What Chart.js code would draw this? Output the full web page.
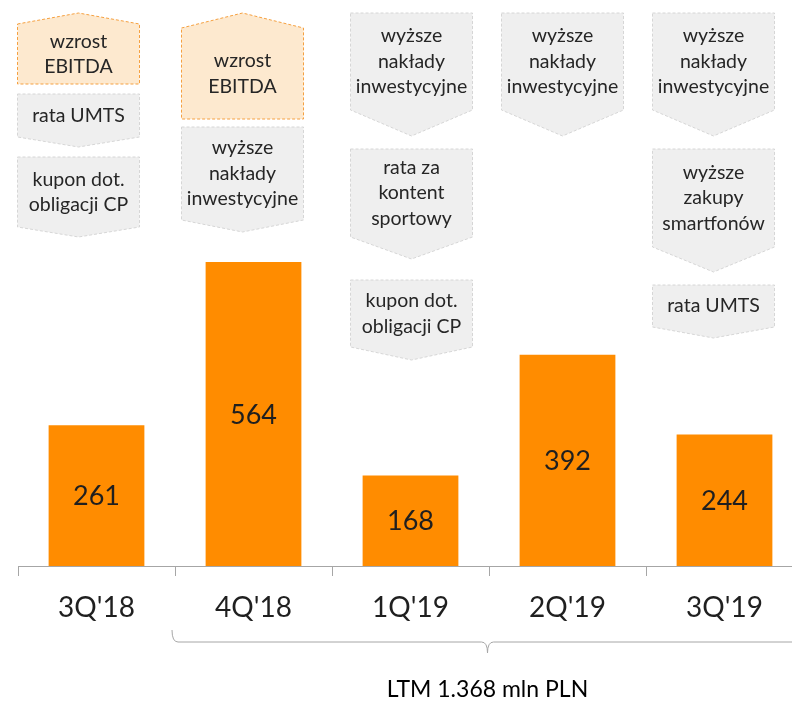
<!DOCTYPE html>
<html><head><meta charset="utf-8">
<script src="https://cdn.jsdelivr.net/npm/chart.js@4"></script>
<style>
html,body{margin:0;padding:0;background:#fff;overflow:hidden;width:792px;height:701px}
#wrap{position:relative;width:803px;height:701px}
</style></head>
<body>
<div id="wrap"><canvas id="c"></canvas></div>
<script>
// ---- data ----
const categories = ["3Q'18", "4Q'18", "1Q'19", "2Q'19", "3Q'19"];
const values = [261, 564, 168, 392, 244];
const ltmLabel = "LTM 1.368 mln PLN";
// annotations per category: [kind, lines]
const notes3Q18 = [["up", ["wzrost", "EBITDA"]], ["down", ["rata UMTS"]], ["down", ["kupon dot.", "obligacji CP"]]];
const notes4Q18 = [["up", ["wzrost", "EBITDA"]], ["down", ["wyższe", "nakłady", "inwestycyjne"]]];
const notes1Q19 = [["down", ["wyższe", "nakłady", "inwestycyjne"]], ["down", ["rata za", "kontent", "sportowy"]], ["down", ["kupon dot.", "obligacji CP"]]];
const notes2Q19 = [["down", ["wyższe", "nakłady", "inwestycyjne"]]];
const notes3Q19 = [["down", ["wyższe", "nakłady", "inwestycyjne"]], ["down", ["wyższe", "zakupy", "smartfonów"]], ["down", ["rata UMTS"]]];
const notes = [notes3Q18, notes4Q18, notes1Q19, notes2Q19, notes3Q19];

// ---- layout (geometry of annotation shapes: [top, shoulder, end]) ----
const boxXOffset = [-18, -11, 1, -5, -11];
const boxWidth = 122;
const boxGeom = [
  [[13, 24, 84], [94, 137, 147], [157, 227, 237]],
  [[13, 28, 119], [127, 220, 232]],
  [[13, 110, 136], [149, 237, 259], [280, 347, 360]],
  [[13, 110, 136]],
  [[13, 110, 136], [149, 247, 272], [285, 327, 338]]
];
const FONT = "Lato, 'Open Sans', sans-serif";

const shapesPlugin = {
  id: 'shapes',
  afterDraw(chart) {
    const ctx = chart.ctx;
    const xs = chart.scales.x;
    // bar value labels
    const meta = chart.getDatasetMeta(0);
    ctx.save();
    ctx.font = "27px " + FONT;
    ctx.fillStyle = "#1f1f1f";
    ctx.textAlign = "center";
    ctx.textBaseline = "middle";
    meta.data.forEach((bar, i) => {
      ctx.fillText(String(values[i]), bar.x, (bar.y + bar.base) / 2 + 1);
    });
    ctx.restore();

    // annotation shapes
    notes.forEach((list, ci) => {
      const cx = xs.getPixelForValue(ci) + boxXOffset[ci];
      const l = cx - boxWidth / 2, r = cx + boxWidth / 2;
      list.forEach((n, k) => {
        const [kind, lines] = n;
        const [t, s, e] = boxGeom[ci][k];
        ctx.save();
        ctx.beginPath();
        let textTop, textBot;
        if (kind === 'up') {
          ctx.moveTo(l, s); ctx.lineTo(cx, t); ctx.lineTo(r, s); ctx.lineTo(r, e); ctx.lineTo(l, e); ctx.closePath();
          ctx.fillStyle = "#fde9cf"; ctx.strokeStyle = "#f5a040";
          textTop = s; textBot = e;
        } else {
          ctx.moveTo(l, t); ctx.lineTo(r, t); ctx.lineTo(r, s); ctx.lineTo(cx, e); ctx.lineTo(l, s); ctx.closePath();
          ctx.fillStyle = "#efefef"; ctx.strokeStyle = "#d6d6d6";
          textTop = t; textBot = s;
        }
        ctx.fill();
        ctx.setLineDash([3, 2]); ctx.lineWidth = 1; ctx.stroke();
        ctx.setLineDash([]);
        ctx.font = "19.5px " + FONT;
        ctx.fillStyle = "#262626";
        ctx.textAlign = "center"; ctx.textBaseline = "middle";
        const lh = 25.5;
        const mid = (textTop + textBot) / 2;
        const y0 = mid - (lines.length - 1) * lh / 2;
        lines.forEach((ln, j) => ctx.fillText(ln, cx, y0 + j * lh));
        ctx.restore();
      });
    });

    // brace under 4Q'18 .. 3Q'19
    const half = (xs.getPixelForValue(1) - xs.getPixelForValue(0)) / 2;
    const bl = xs.getPixelForValue(1) - half - 3;
    const br = xs.getPixelForValue(4) + half;
    const bm = (bl + br) / 2;
    const by = 642;
    ctx.save();
    ctx.strokeStyle = "#a6a6a6"; ctx.lineWidth = 1;
    ctx.beginPath();
    ctx.moveTo(bl, by - 12);
    ctx.quadraticCurveTo(bl, by, bl + 6, by);
    ctx.lineTo(bm - 6, by);
    ctx.quadraticCurveTo(bm, by, bm, by + 11);
    ctx.quadraticCurveTo(bm, by, bm + 6, by);
    ctx.lineTo(br, by);
    ctx.stroke();
    ctx.font = "23px " + FONT;
    ctx.fillStyle = "#000";
    ctx.textAlign = "center"; ctx.textBaseline = "middle";
    ctx.fillText(ltmLabel, bm, 690);
    ctx.restore();
  }
};

new Chart(document.getElementById('c'), {
  type: 'bar',
  data: {
    labels: categories,
    datasets: [{ data: values, backgroundColor: '#ff8c00', borderWidth: 0, barPercentage: 0.61, categoryPercentage: 1 }]
  },
  options: {
    responsive: true, maintainAspectRatio: false, animation: false,
    layout: { padding: { left: 18, right: 0, top: 27, bottom: 0 } },
    plugins: { legend: { display: false }, tooltip: { enabled: false } },
    scales: {
      y: { display: false, min: 0, max: 1000 },
      x: {
        grid: { display: true, drawOnChartArea: false, drawTicks: true, tickLength: 10, color: '#a6a6a6', offset: true },
        border: { display: true, color: '#a6a6a6', width: 1 },
        ticks: { color: '#1f1f1f', font: { family: FONT, size: 28 }, padding: 15 },
        afterFit(s) { s.height = 135; }
      }
    }
  },
  plugins: [shapesPlugin]
});
</script>
</body></html>
